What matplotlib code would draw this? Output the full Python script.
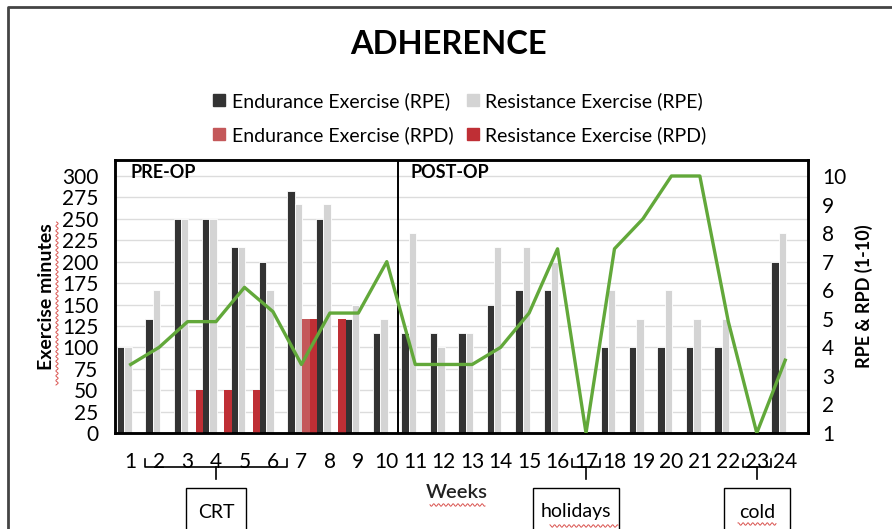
import numpy as np
import matplotlib.pyplot as plt
from matplotlib.patches import Patch, Rectangle
from matplotlib.lines import Line2D
import matplotlib.transforms as mtransforms

plt.rcParams['font.family'] = ['Lato', 'DejaVu Sans']

weeks = np.arange(1, 25)
endurance_rpe = [100, 133, 250, 250, 217, 200, 283, 250, 133, 117,
                 117, 117, 117, 150, 167, 167, 0, 100, 100, 100, 100, 100, 0, 200]
resistance_rpe = [100, 167, 250, 250, 217, 167, 267, 267, 150, 133,
                  233, 100, 117, 217, 217, 200, 0, 167, 133, 167, 133, 133, 0, 233]
endurance_rpd = [0, 0, 0, 0, 0, 0, 133, 0, 0, 0,
                 0, 0, 0, 0, 0, 0, 0, 0, 0, 0, 0, 0, 0, 0]
resistance_rpd = [0, 0, 50, 50, 50, 0, 133, 133, 0, 0,
                  0, 0, 0, 0, 0, 0, 0, 0, 0, 0, 0, 0, 0, 0]
rpe_rpd = [3.4, 4.0, 4.9, 4.9, 6.1, 5.25, 3.4, 5.2, 5.2, 7.0,
           3.4, 3.4, 3.4, 4.0, 5.2, 7.45, 1.0, 7.45, 8.5, 10, 10, 4.9, 1.0, 3.55]

notes = ["CRT", "holidays", "cold"]
note_weeks = [(2, 6), (17, 17), (23, 23)]

W = 892 / 100
H = 529 / 100
fig = plt.figure(figsize=(W, H), dpi=100)

ax = fig.add_axes([115 / 892, 1 - 433 / 529, 693 / 892, 273 / 529])
ax2 = ax.twinx()

bw = 0.26
ax.bar(weeks - 0.36, endurance_rpe, bw, color='#333333', edgecolor='white', linewidth=0.6, zorder=2)
ax.bar(weeks - 0.10, resistance_rpe, bw, color='#d4d4d4', edgecolor='white', linewidth=0.6, zorder=2)
ax.bar(weeks + 0.16, endurance_rpd, bw, color='#c4585a', edgecolor='none', zorder=3)
ax.bar(weeks + 0.42, resistance_rpd, bw, color='#bf2f35', edgecolor='none', zorder=3)

ax2.plot(weeks, rpe_rpd, color='#62a83a', linewidth=2.4, zorder=4)

ax.set_xlim(0.45, 24.8)
ax.set_ylim(0, 318.7)
ax2.set_ylim(1, 10.56)
ax.set_yticks(np.arange(0, 301, 25))
ax2.set_yticks(np.arange(1, 11))
ax.set_xticks(weeks)
ax.tick_params(axis='both', length=0, labelsize=15, pad=12)
ax.tick_params(axis='x', pad=14)
ax2.tick_params(axis='y', length=0, labelsize=15, pad=10)
ax.grid(axis='y', color='#dcdcdc', linewidth=1, zorder=0)
ax.set_axisbelow(True)
for a in (ax, ax2):
    for s in a.spines.values():
        s.set_linewidth(1.8)
        s.set_color('black')

ax.axvline(10.4, color='black', linewidth=1.4, zorder=5)
ax.text(1.0, 304, "PRE-OP", fontsize=13, fontweight='bold', va='center', ha='left')
ax.text(10.85, 304, "POST-OP", fontsize=13, fontweight='bold', va='center', ha='left')

ax.set_ylabel("Exercise minutes", fontsize=14, fontweight='bold', labelpad=5)
ax2.set_ylabel("RPE & RPD (1-10)", fontsize=13, fontweight='bold', labelpad=6)
fig.text(457 / 892, 1 - 493 / 529, "Weeks", fontsize=14.5, fontweight='semibold',
         ha='center', va='center', color='#222222')

fig.text(449 / 892, 1 - 45 / 529, "ADHERENCE", fontsize=23.5, fontweight='bold',
         ha='center', va='center')

handles = [Patch(color='#333333'), Patch(color='#c4585a'),
           Patch(color='#d4d4d4'), Patch(color='#bf2f35')]
labels = ["Endurance Exercise (RPE)", "Endurance Exercise (RPD)",
          "Resistance Exercise (RPE)", "Resistance Exercise (RPD)"]
fig.legend(handles, labels, ncol=2, loc='center', bbox_to_anchor=(460 / 892, 1 - 118 / 529),
           frameon=False, fontsize=14, handlelength=0.6, handleheight=0.6,
           handletextpad=0.35, columnspacing=0.7, labelspacing=0.85)

# brackets and note boxes under the week labels
trans = mtransforms.blended_transform_factory(ax.transData, fig.transFigure)
y_top = 1 - 459 / 529
y_mid = 1 - 467 / 529
y_stem = 1 - 479 / 529
y_box = 1 - 488 / 529
for note, (w0, w1) in zip(notes, note_weeks):
    xa, xb = w0 - 0.5, w1 + 0.5
    xc = (w0 + w1) / 2
    ax.add_line(Line2D([xa, xa, xb, xb], [y_top, y_mid, y_mid, y_top], transform=trans,
                       color='black', linewidth=1.2, clip_on=False))
    ax.add_line(Line2D([xc, xc], [y_mid, y_stem], transform=trans,
                       color='black', linewidth=1.2, clip_on=False))
    half = {"CRT": 1.05, "holidays": 1.5, "cold": 1.15}[note]
    shift = -0.35 if note == "holidays" else 0
    ax.add_patch(Rectangle((xc - half + shift, y_box - 0.2), 2 * half, 0.2, transform=trans,
                           fill=False, edgecolor='black', linewidth=1.0, clip_on=False))
    ax.text(xc + shift, 1 - 512 / 529, note, transform=trans, fontsize=14,
            ha='center', va='center')


# spell-check squiggles seen in the original screenshot
def squiggle(x0, x1, y, vertical=False):
    t = np.linspace(0, 1, 200)
    a = x0 + (x1 - x0) * t
    b = y + 1.2 * np.sin(a * 1.3)
    if vertical:
        xs, ys = b / 892, 1 - a / 529
    else:
        xs, ys = a / 892, 1 - b / 529
    fig.add_artist(Line2D(xs, ys, transform=fig.transFigure, color='#d9534f', linewidth=0.7))


squiggle(430, 485, 505)
squiggle(550, 618, 526)
squiggle(738, 776, 524)
squiggle(222, 385, 57, vertical=True)

# outer frame
fig.add_artist(Line2D([8 / 892, 8 / 892, 1], [0, 1 - 7 / 529, 1 - 7 / 529],
                      transform=fig.transFigure, color='#444444', linewidth=2))

fig.savefig("out.png", dpi=100)
